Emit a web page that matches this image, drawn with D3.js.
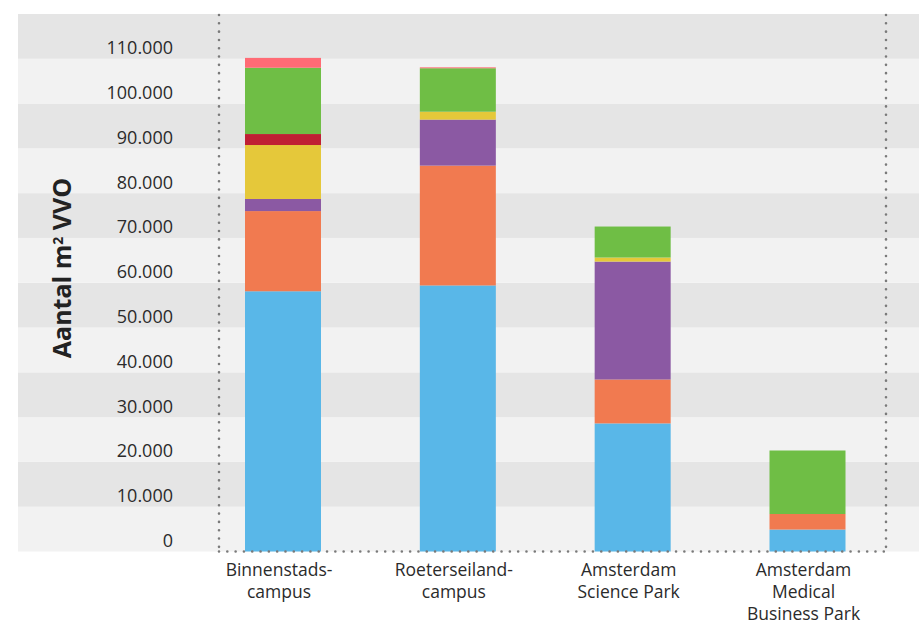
<!DOCTYPE html>
<html><head><meta charset="utf-8">
<script src="https://cdn.jsdelivr.net/npm/d3@7"></script>
<style>body{margin:0;background:#fff}svg{display:block}</style>
</head><body>
<svg id="c" width="919" height="625"></svg>
<script>
const categories = [["Binnenstads-","campus"],["Roeterseiland-","campus"],["Amsterdam","Science Park"],["Amsterdam","Medical","Business Park"]];
const categoryKeys = ["Binnenstadscampus","Roeterseilandcampus","Amsterdam Science Park","Amsterdam Medical Business Park"];
const seriesNames = ["blauw","oranje","paars","geel","rood","groen","roze"];
const seriesColors = ["#59b7e8","#f17a50","#8b59a3","#e5c83a","#bf2033","#6fbe45","#ff6b75"];
const blauw  = [58100, 59400, 28600, 4900];
const oranje = [17900, 26750, 9800, 3470];
const paars  = [2700, 10270, 26330, 0];
const geel   = [12050, 1770, 900, 0];
const rood   = [2450, 0, 0, 0];
const groen  = [14800, 9700, 6920, 14180];
const roze   = [2200, 200, 0, 0];
const yTicks = [0,10000,20000,30000,40000,50000,60000,70000,80000,90000,100000,110000];
const yTickLabels = ["0","10.000","20.000","30.000","40.000","50.000","60.000","70.000","80.000","90.000","100.000","110.000"];

const seriesValues = [blauw, oranje, paars, geel, rood, groen, roze];
const rows = categoryKeys.map((k,i)=>{const r={cat:k}; seriesNames.forEach((s,j)=>r[s]=seriesValues[j][i]); return r;});
const stack = d3.stack().keys(seriesNames)(rows);

const svg = d3.select("#c");
const y = d3.scaleLinear().domain([0,120000]).range([551.5,14]);
const x = d3.scalePoint().domain(categoryKeys).range([283,807.5]);
const barW = 76;
const bgLeft = 18, bgRight = 919, plotLeft = 219, plotRight = 886;

// background stripes
const stripes = d3.range(0,120000,10000);
svg.append("g").selectAll("rect").data(stripes).join("rect")
  .attr("x",bgLeft).attr("width",bgRight-bgLeft)
  .attr("y",d=>y(d+10000)).attr("height",d=>y(d)-y(d+10000))
  .attr("fill",(d,i)=> (i%2===0)?"#f2f2f2":"#e5e5e5");

// bars
svg.append("g").selectAll("g").data(stack).join("g")
  .attr("fill",(d,i)=>seriesColors[i])
  .selectAll("rect").data(d=>d.filter(p=>p[1]-p[0]>0)).join("rect")
  .attr("x",d=>x(d.data.cat)-barW/2).attr("width",barW)
  .attr("y",d=>y(d[1])).attr("height",d=>y(d[0])-y(d[1]));

// dotted frame lines
const dot = {stroke:"#7a7a7a","stroke-width":2.6,"stroke-linecap":"round","stroke-dasharray":"0.01,8.3"};
function dl(x1,y1,x2,y2){const l=svg.append("line").attr("x1",x1).attr("y1",y1).attr("x2",x2).attr("y2",y2);Object.entries(dot).forEach(([k,v])=>l.attr(k,v));}
dl(plotLeft,15,plotLeft,y(0));
dl(plotRight,15,plotRight,y(0));
dl(plotLeft,y(0),plotRight,y(0));

// y tick labels
const yAxis = d3.axisLeft(y).tickValues(yTicks).tickFormat((d,i)=>yTickLabels[i]).tickSize(0).tickPadding(0);
const ya = svg.append("g").attr("transform","translate(173,0)").call(yAxis);
ya.select(".domain").remove();
ya.selectAll("text").attr("font-family","Open Sans").attr("font-size",18).attr("fill","#2b2b2b")
  .attr("dy",null).attr("y",-5).attr("text-anchor","end");

// y title
const t = svg.append("text").attr("transform","translate(71,268) rotate(-90)")
  .attr("text-anchor","middle").attr("font-family","Open Sans").attr("font-weight","bold")
  .attr("font-size",25).attr("fill","#222");
t.append("tspan").text("Aantal m");
t.append("tspan").text("2").attr("font-size",14).attr("baseline-shift","55%");
t.append("tspan").text(" VVO");

// category labels
const cl = svg.append("g").selectAll("text").data(categoryKeys).join("text")
  .attr("text-anchor","middle").attr("font-family","Open Sans").attr("font-size",17.5).attr("fill","#2b2b2b")
  .attr("transform",d=>`translate(${x(d)-4},575.5)`);
cl.each(function(d,i){
  const el=d3.select(this);
  categories[i].forEach((line,j)=>el.append("tspan").attr("x",0).attr("y",j*22.3).text(line));
});
</script>
</body></html>
